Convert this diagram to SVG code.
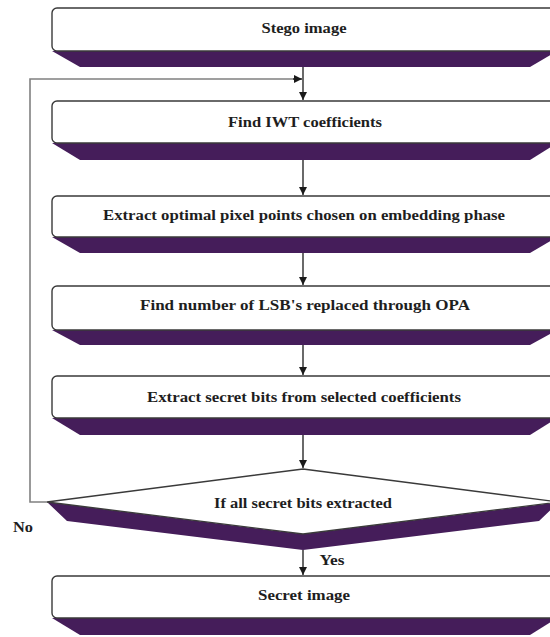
<svg xmlns="http://www.w3.org/2000/svg" width="550" height="637" viewBox="0 0 550 637">
<style>
.box{fill:#ffffff;stroke:#3a3a3a;stroke-width:1.4}
.band{fill:#451d5a;stroke:none}
.lbl{font-family:"Liberation Serif","Times New Roman",serif;font-weight:bold;font-size:15.5px;fill:#1e1e1e;text-anchor:middle}
.edge{fill:none;stroke:#1a1a1a;stroke-width:1.3}
.loop{fill:none;stroke:#808080;stroke-width:1.6}
</style>
<defs>
<marker id="ah" viewBox="0 0 10 10" refX="10" refY="5" markerWidth="8" markerHeight="8" markerUnits="userSpaceOnUse" orient="auto">
<path d="M0,0 L10,5 L0,10 Z" fill="#1a1a1a"/>
</marker>
</defs>
<rect width="550" height="637" fill="#ffffff"/>

<g id="n-stego">
<polygon class="band" points="52,51 557,51 530,67 80,67"/>
<rect class="box" x="52" y="8" width="506" height="43" rx="5"/>
<text class="lbl" x="304" y="33" textLength="85" lengthAdjust="spacingAndGlyphs">Stego image</text>
</g>

<g id="n-iwt">
<polygon class="band" points="52,143 557,143 530,160 80,160"/>
<rect class="box" x="52" y="101" width="506" height="42" rx="5"/>
<text class="lbl" x="305" y="127" textLength="154" lengthAdjust="spacingAndGlyphs">Find IWT coefficients</text>
</g>

<g id="n-extract-points">
<polygon class="band" points="52,237 557,237 530,253 80,253"/>
<rect class="box" x="52" y="196" width="506" height="41" rx="5"/>
<text class="lbl" x="304" y="220" textLength="402" lengthAdjust="spacingAndGlyphs">Extract optimal pixel points chosen on embedding phase</text>
</g>

<g id="n-lsb">
<polygon class="band" points="52,330 557,330 530,345 80,345"/>
<rect class="box" x="52" y="286" width="506" height="44" rx="5"/>
<text class="lbl" x="305" y="310" textLength="330" lengthAdjust="spacingAndGlyphs">Find number of LSB's replaced through OPA</text>
</g>

<g id="n-extract-bits">
<polygon class="band" points="52,418 557,418 530,435 80,435"/>
<rect class="box" x="52" y="376" width="506" height="42" rx="5"/>
<text class="lbl" x="304" y="402" textLength="314" lengthAdjust="spacingAndGlyphs">Extract secret bits from selected coefficients</text>
</g>

<g id="n-decision">
<polygon class="band" points="47,502 303,534 559,502 539,521 303,550 67,521"/>
<polygon class="box" points="303,469 559,502 303,534 47,502"/>
<text class="lbl" x="303" y="508" textLength="178" lengthAdjust="spacingAndGlyphs">If all secret bits extracted</text>
</g>

<g id="n-secret">
<polygon class="band" points="52,618 557,618 530,635 80,635"/>
<rect class="box" x="52" y="576" width="506" height="42" rx="5"/>
<text class="lbl" x="304" y="600" textLength="92" lengthAdjust="spacingAndGlyphs">Secret image</text>
</g>

<g id="connectors">
<line class="edge" x1="303" y1="67" x2="303" y2="100" marker-end="url(#ah)"/>
<polyline class="loop" points="47,502 30,502 30,79 294,79"/>
<line class="edge" x1="293" y1="79" x2="302" y2="79" marker-end="url(#ah)"/>
<line class="edge" x1="303" y1="160" x2="303" y2="195" marker-end="url(#ah)"/>
<line class="edge" x1="303" y1="253" x2="303" y2="285" marker-end="url(#ah)"/>
<line class="edge" x1="303" y1="345" x2="303" y2="375" marker-end="url(#ah)"/>
<line class="edge" x1="303" y1="435" x2="303" y2="468" marker-end="url(#ah)"/>
<line class="edge" x1="303" y1="550" x2="303" y2="575" marker-end="url(#ah)"/>
<text class="lbl" x="332" y="565" textLength="25" lengthAdjust="spacingAndGlyphs">Yes</text>
<text class="lbl" x="23" y="532" textLength="20" lengthAdjust="spacingAndGlyphs">No</text>
</g>
</svg>
